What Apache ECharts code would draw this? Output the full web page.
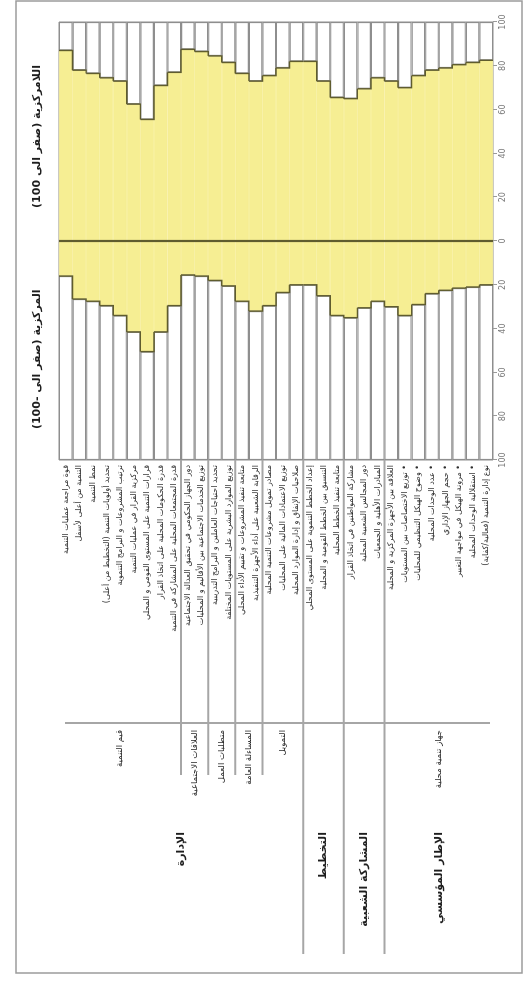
<!DOCTYPE html>
<html>
<head>
<meta charset="utf-8">
<script src="https://cdn.jsdelivr.net/npm/echarts@6/dist/echarts.min.js"></script>
<style>
  html, body { margin: 0; padding: 0; background: #ffffff; overflow: hidden; }
  body { width: 531px; height: 982px; position: relative; }
  /* The page is laid out landscape and turned a quarter turn */
  #sheet {
    position: absolute; left: 0; top: 982px;
    width: 982px; height: 531px;
    transform-origin: 0 0; transform: rotate(-90deg);
    background: #ffffff; direction: rtl;
  }
  #chart { width: 982px; height: 531px; }
</style>
</head>
<body>
<div id="sheet"><div id="chart"></div></div>
<script>
// Items, listed top to bottom
const categories = [
  'قوة مراجعة عمليات التنمية',
  'التنمية من أعلى لأسفل',
  'نمط التنمية',
  'تحديد أولويات التنمية (التخطيط من أعلى)',
  'ترتيب المشروعات و البرامج التنموية',
  'مركزية القرار في عمليات التنمية',
  'قرارات التنمية على المستوى القومي و المحلي',
  'قدرة الحكومات المحلية على اتخاذ القرار',
  'قدرة المجتمعات المحلية على المشاركة في التنمية',
  'دور الجهاز الحكومي في تحقيق العدالة الاجتماعية',
  'توزيع الخدمات الاجتماعية بين الأقاليم و المحليات',
  'تحديد احتياجات العاملين و البرامج التدريبية',
  'توزيع الموارد البشرية على المستويات المختلفة',
  'متابعة تنفيذ المشروعات و تقييم الأداء المحلي',
  'الرقابة الشعبية على أداء الأجهزة التنفيذية',
  'مصادر تمويل مشروعات التنمية المحلية',
  'توزيع الاعتمادات المالية على المحليات',
  'صلاحيات الإنفاق و إدارة الموارد المحلية',
  'إعداد الخطط التنموية على المستوى المحلي',
  'التنسيق بين الخطط القومية و المحلية',
  'متابعة تنفيذ الخطط المحلية',
  'مشاركة المواطنين في اتخاذ القرار',
  'دور المجالس الشعبية المحلية',
  'المبادرات الأهلية و الجمعيات',
  'العلاقة بين الأجهزة المركزية و المحلية',
  '• توزيع الاختصاصات بين المستويات',
  '• وضوح الهيكل التنظيمي للمحليات',
  '• عدد الوحدات المحلية',
  '• حجم الجهاز الإداري',
  '• مرونة الهيكل في مواجهة التغيير',
  '• استقلالية الوحدات المحلية',
  'نوع إدارة التنمية (فعالية/كفاية)'
];

// Decentralisation score (0 to 100), one per item
const decentralization = [87, 78, 76.5, 74.5, 73, 62.5, 55.5, 71, 77, 87.5, 86.5, 84.5, 81.5, 76.5, 73, 75.5,
  79, 82, 82, 73, 65.5, 65, 69.5, 74.5, 73, 70, 75.5, 78, 79, 80.5, 81.5, 82.5];

// Centralisation score (0 to 100), one per item
const centralization = [16, 26.5, 27.5, 29.5, 34, 41.5, 50.5, 41.5, 29.5, 15.5, 16, 18, 20.5, 27.5, 32, 29.5,
  23.5, 20, 20, 25, 34, 35, 30.5, 27.5, 30, 34, 29, 24, 22.5, 21.5, 21, 20];

// Grouping of the items
const subGroupNames = ['قيم التنمية', 'العلاقات الاجتماعية', 'متطلبات العمل', 'المساءلة العامة', 'التمويل', '', '', 'جهاز تنمية محلية'];
const subGroupSizes = [9, 2, 2, 2, 3, 3, 3, 8];
const groupNames = ['الإدارة', 'التخطيط', 'المشاركة الشعبية', 'الإطار المؤسسي'];
const groupSizes = [18, 3, 3, 8];

const axisTitles = ['اللامركزية (صفر الى 100)', 'المركزية (صفر الى -100)'];

const YELLOW = '#f6ee93';
const OUTLINE = '#5f5c2e';
const GRID_GREY = '#8e8e8e';
const FONT = '"DejaVu Sans", sans-serif';

const chart = echarts.init(document.getElementById('chart'), null, { renderer: 'canvas' });

// Step outline along the yellow / white boundary
function stepOutline(values) {
  return values.map((v, i) => [v, i, i + 1 < values.length ? values[i + 1] : NaN]);
}
function renderStep(params, api) {
  const v = api.value(0), i = api.value(1), nv = api.value(2);
  const c = api.coord([v, i]);
  const h = api.size([0, 1])[1];
  const pts = [[c[0], c[1] - h / 2], [c[0], c[1] + h / 2]];
  if (!isNaN(nv)) {
    const c2 = api.coord([nv, i + 1]);
    const yb = (c[1] + c2[1]) / 2;
    pts[1] = [c[0], yb];
    pts.push([c2[0], yb]);
  }
  return {
    type: 'polyline',
    shape: { points: pts },
    style: { stroke: OUTLINE, lineWidth: 1.4, fill: null }
  };
}

const negCentral = centralization.map(v => -v);

const option = {
  backgroundColor: '#ffffff',
  animation: false,
  grid: {
    left: 522, top: 59, width: 438, height: 434,
    show: true, borderColor: GRID_GREY, borderWidth: 1, backgroundColor: 'transparent'
  },
  xAxis: {
    type: 'value', position: 'bottom',
    min: -100, max: 100, interval: 20,
    axisLine: { show: false },
    axisTick: { show: true, length: 4, lineStyle: { color: '#9a9a9a', width: 1 } },
    splitLine: { show: false },
    axisLabel: {
      margin: 6, fontSize: 8, color: '#7a7a7a', fontFamily: FONT,
      formatter: v => String(Math.abs(v))
    }
  },
  yAxis: {
    type: 'category', data: categories, inverse: true, position: 'left',
    axisLine: { show: false }, axisTick: { show: false },
    axisLabel: { margin: 5, fontSize: 8, color: '#2e2e2e', fontFamily: FONT, interval: 0 }
  },
  series: [
    {
      name: 'decentral', type: 'bar', stack: 'all', barCategoryGap: '0%',
      data: decentralization, silent: true,
      itemStyle: { color: YELLOW, borderColor: YELLOW, borderWidth: 0.8 },
      markLine: {
        silent: true, symbol: 'none', label: { show: false },
        lineStyle: { color: OUTLINE, width: 2.2, type: 'solid' },
        data: [{ xAxis: 0 }]
      },
      z: 2
    },
    {
      name: 'decentralRest', type: 'bar', stack: 'all',
      data: decentralization.map(v => 100 - v), silent: true,
      itemStyle: { color: '#ffffff', borderColor: GRID_GREY, borderWidth: 1.1 },
      z: 2
    },
    {
      name: 'central', type: 'bar', stack: 'all',
      data: negCentral, silent: true,
      itemStyle: { color: YELLOW, borderColor: YELLOW, borderWidth: 0.8 },
      z: 2
    },
    {
      name: 'centralRest', type: 'bar', stack: 'all',
      data: centralization.map(v => -(100 - v)), silent: true,
      itemStyle: { color: '#ffffff', borderColor: GRID_GREY, borderWidth: 1.1 },
      z: 2
    },
    {
      type: 'custom', silent: true, z: 5,
      encode: { x: 0, y: 1 },
      data: stepOutline(decentralization),
      renderItem: renderStep
    },
    {
      type: 'custom', silent: true, z: 5,
      encode: { x: 0, y: 1 },
      data: stepOutline(negCentral),
      renderItem: renderStep
    }
  ]
};

chart.setOption(option);

// Frame, titles and group headings placed from the category axis
const c0 = chart.convertToPixel({ yAxisIndex: 0 }, 0);
const c1 = chart.convertToPixel({ yAxisIndex: 0 }, 1);
const band = c1 - c0;
const edge = k => c0 + (k - 0.5) * band;   // boundary above item k

const LINE_GREY = '#a6a6a6';
const plotLeft = 522;
const graphics = [];

graphics.push({
  type: 'rect', silent: true, z: 0,
  shape: { x: 9, y: 16, width: 972, height: 506 },
  style: { fill: 'none', stroke: '#9c9c9c', lineWidth: 1.5 }
});
graphics.push({
  type: 'line', silent: true,
  shape: { x1: 259, y1: edge(0) + 6, x2: 259, y2: edge(categories.length) - 3 },
  style: { stroke: LINE_GREY, lineWidth: 2 }
});

// separators
const topEdges = new Set();
let acc = 0;
groupSizes.forEach(n => { acc += n; topEdges.add(acc); });
acc = 0;
subGroupSizes.forEach((n, gi) => {
  const start = acc;
  acc += n;
  const name = subGroupNames[gi];
  if (name) {
    graphics.push({
      type: 'text', silent: true,
      style: {
        text: name, x: 252, y: (edge(start) + edge(acc)) / 2,
        align: 'right', verticalAlign: 'middle',
        font: '8.5px ' + FONT, fill: '#2a2a2a'
      }
    });
  }
  if (acc < categories.length) {
    const y = edge(acc);
    const isTop = topEdges.has(acc);
    graphics.push({
      type: 'line', silent: true,
      shape: { x1: plotLeft, y1: y, x2: isTop ? 28 : 207, y2: y },
      style: { stroke: LINE_GREY, lineWidth: 2 }
    });
  }
});
acc = 0;
groupSizes.forEach((n, gi) => {
  const start = acc;
  acc += n;
  graphics.push({
    type: 'text', silent: true,
    style: {
      text: groupNames[gi], x: 150, y: (edge(start) + edge(acc)) / 2,
      align: 'right', verticalAlign: 'middle',
      font: 'bold 11px ' + FONT, fill: '#1e1e1e'
    }
  });
});

// value-side titles above each half
const halfRight = chart.convertToPixel({ xAxisIndex: 0 }, 50);
const halfLeft = chart.convertToPixel({ xAxisIndex: 0 }, -54);
graphics.push({
  type: 'text', silent: true,
  style: { text: axisTitles[0], x: halfRight - 5, y: 37, align: 'center', verticalAlign: 'middle',
    font: 'bold 11px ' + FONT, fill: '#1e1e1e' }
});
graphics.push({
  type: 'text', silent: true,
  style: { text: axisTitles[1], x: halfLeft, y: 37, align: 'center', verticalAlign: 'middle',
    font: 'bold 11px ' + FONT, fill: '#1e1e1e' }
});

chart.setOption({ graphic: graphics });
</script>
</body>
</html>
